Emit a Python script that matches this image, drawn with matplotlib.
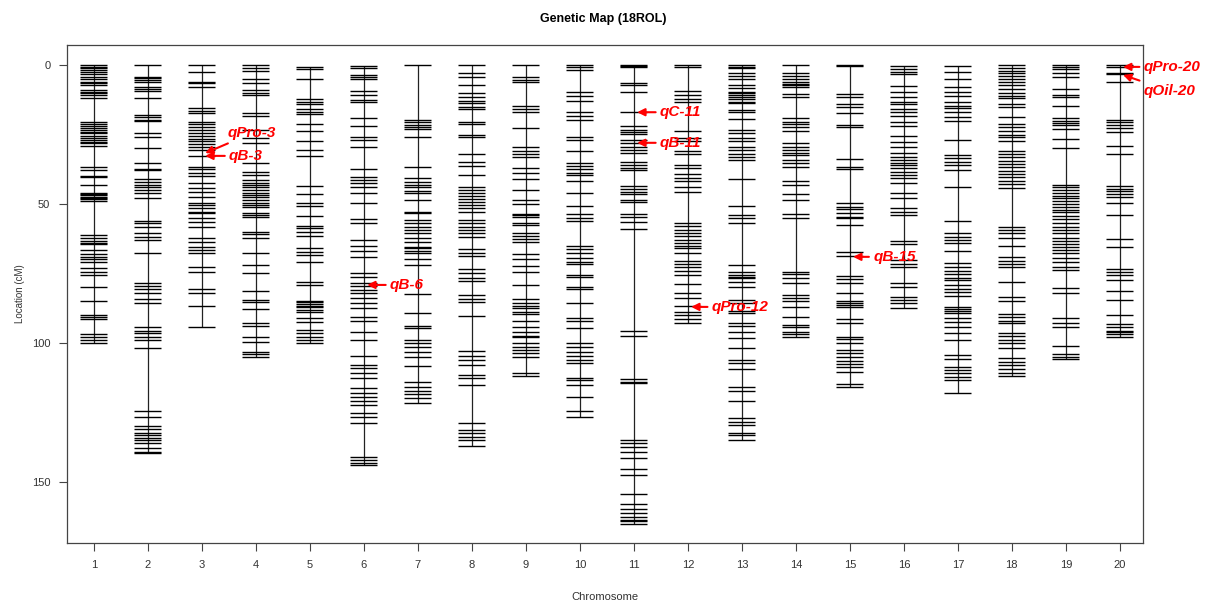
import matplotlib
matplotlib.use("Agg")
import matplotlib.pyplot as plt

# marker positions (cM) on each chromosome
chr1 = [0, 0.6, 1.2, 1.8, 2.4, 3.2, 4.2, 5.2, 6.0, 6.6, 7.2, 9.0, 9.6, 10.2, 10.8, 12.0,
        20.4, 21.2, 21.9, 22.8, 23.4, 24.0, 24.6, 25.5, 26.4, 27.0, 27.6, 28.2, 29.1,
        36.8, 37.8, 39.9, 40.2, 43.2, 45.9, 46.4, 46.9, 47.4, 47.8, 48.3, 48.8,
        61.2, 62.4, 63.2, 63.9, 64.4, 66.5, 68.0, 68.9, 69.9, 70.7, 73.1, 74.3, 75.5,
        79.7, 84.8, 89.9, 90.8, 91.5, 96.8, 98.0, 98.9, 99.8]
chr2 = [0, 4.2, 4.8, 5.4, 6.0, 8.0, 8.7, 9.2, 11.8, 18.0, 18.6, 19.8, 20.1, 24.3, 26.0,
        29.7, 35.4, 37.5, 37.8, 41.1, 42.0, 43.0, 44.0, 45.0, 46.2, 48.0,
        56.0, 57.0, 58.2, 60.6, 62.0, 63.0, 67.7, 78.5, 79.5, 80.5, 82.0, 84.0, 85.7,
        94.4, 95.5, 96.5, 98.0, 99.0, 101.7, 124.3, 126.5, 130.0, 131.0, 132.5, 133.0,
        134.0, 135.0, 136.0, 137.9, 139.2, 139.7]
chr3 = [0, 2.4, 6.0, 6.6, 7.8, 15.6, 16.5, 17.4, 20.4, 21.2, 22.2, 23.4, 24.5, 25.5,
        26.5, 27.5, 28.5, 29.5, 30.6, 32.7, 36.6, 37.5, 39.0, 39.9, 42.3, 44.4, 45.6,
        47.4, 49.5, 50.5, 51.5, 52.8, 53.4, 55.2, 56.4, 58.2, 62.4, 63.5, 65.3, 66.5,
        67.7, 72.5, 74.3, 80.7, 82.1, 86.7, 94.4]
chr4 = [0, 1.2, 2.0, 5.2, 6.6, 9.0, 10.0, 10.8, 17.4, 18.3, 23.4, 26.4, 28.2, 35.4,
        38.4, 39.6, 41.4, 42.3, 43.2, 44.0, 45.0, 46.0, 46.8, 47.6, 48.6, 49.5, 50.4,
        51.2, 53.4, 54.0, 54.6, 60.0, 60.8, 62.4, 67.5, 72.0, 74.7, 81.2, 84.5, 85.1,
        87.9, 92.9, 93.9, 98.0, 99.6, 103.1, 104.0, 105.0]
chr5 = [0.6, 1.6, 5.2, 12.3, 13.2, 14.0, 16.0, 16.8, 17.6, 21.2, 23.6, 27.2, 30.6,
        32.7, 43.5, 46.4, 49.8, 50.7, 54.3, 57.9, 58.8, 60.0, 61.5, 66.0, 67.1, 68.3,
        70.7, 77.9, 79.1, 84.8, 85.4, 86.0, 86.6, 87.2, 88.0, 88.7, 91.1, 92.3, 95.3,
        96.5, 97.7, 98.9, 100.1]
chr6 = [0.4, 1.2, 3.6, 4.4, 5.2, 9.2, 10.8, 12.6, 13.5, 19.2, 21.9, 26.0, 27.0, 29.6,
        37.5, 40.2, 41.4, 42.6, 43.8, 46.2, 49.8, 55.5, 57.0, 63.0, 65.1, 66.8, 69.0,
        74.7, 76.1, 78.5, 79.5, 81.0, 82.1, 83.9, 85.5, 87.5, 90.5, 92.0, 96.0, 98.9,
        104.7, 107.9, 109.1, 110.7, 112.5, 116.3, 118.0, 119.5, 120.8, 122.3, 125.3,
        126.5, 128.9, 140.9, 142.1, 143.0, 143.9]
chr7 = [0, 19.8, 20.6, 21.5, 22.2, 23.1, 26.0, 36.8, 40.8, 42.0, 43.0, 44.0, 45.2,
        46.2, 48.6, 52.8, 53.4, 55.8, 57.0, 58.2, 59.4, 60.6, 62.4, 63.5, 65.3, 66.0,
        66.8, 67.7, 69.9, 71.9, 82.5, 89.1, 93.9, 94.7, 98.9, 100.1, 101.3, 103.1,
        104.9, 108.3, 114.1, 115.9, 117.1, 118.3, 119.9, 121.5]
chr8 = [0, 2.8, 4.2, 7.2, 10.2, 11.4, 12.8, 13.8, 15.0, 16.0, 20.4, 21.2, 25.2, 26.0,
        32.0, 34.8, 36.3, 39.6, 43.8, 45.0, 46.0, 47.0, 48.2, 49.4, 50.5, 51.5, 52.8,
        55.8, 57.0, 58.2, 59.5, 60.3, 62.0, 66.3, 67.5, 68.7, 73.5, 74.9, 76.7, 77.6,
        82.7, 84.3, 85.1, 90.3, 102.8, 104.7, 106.0, 107.9, 111.5, 112.7, 115.1,
        128.9, 131.3, 132.5, 133.7, 134.9, 137.0]
chr9 = [0, 4.4, 5.4, 6.0, 14.7, 15.9, 16.8, 22.8, 29.6, 31.0, 32.2, 33.2, 37.2, 38.7,
        41.1, 45.0, 48.6, 50.0, 53.6, 54.1, 54.6, 56.7, 57.6, 60.3, 61.5, 62.7, 63.5,
        68.0, 69.9, 72.3, 74.3, 79.1, 84.3, 85.5, 86.7, 87.5, 88.7, 89.6, 92.0, 94.4,
        95.9, 97.4, 98.0, 100.1, 101.3, 102.5, 103.7, 104.9, 110.9, 111.9]
chr10 = [0, 0.8, 1.8, 9.6, 11.2, 12.8, 16.8, 18.3, 19.8, 26.0, 27.0, 30.8, 35.1, 36.3,
         37.5, 38.7, 39.6, 41.6, 46.2, 50.6, 53.6, 55.2, 56.0, 65.1, 66.3, 67.5, 69.5,
         70.8, 71.6, 75.5, 76.4, 80.0, 80.7, 85.5, 91.1, 92.0, 94.7, 99.9, 101.3, 103.1,
         104.7, 106.1, 107.3, 112.4, 113.3, 115.1, 119.5, 124.3, 126.5]
chr11 = [0, 0.4, 0.8, 6.6, 7.2, 9.6, 17.0, 21.9, 23.4, 24.2, 24.8, 27.0, 27.9, 29.4,
         30.6, 31.8, 34.8, 36.0, 37.0, 37.8, 43.5, 44.6, 45.8, 46.4, 48.6, 49.2, 53.6,
         54.6, 56.4, 59.1, 95.6, 97.5, 113.0, 114.0, 114.5, 134.9, 136.0, 137.5, 139.0,
         141.5, 145.4, 147.5, 154.1, 157.9, 159.5, 161.0, 162.5, 163.5, 164.0, 165.0]
chr12 = [0, 0.8, 9.2, 10.8, 12.4, 13.5, 23.6, 26.4, 27.2, 30.8, 32.0, 36.0, 37.2, 39.2,
         40.5, 41.6, 43.8, 45.6, 57.0, 58.0, 59.2, 60.5, 61.5, 62.8, 64.0, 65.0, 66.0,
         67.7, 70.4, 71.6, 72.8, 74.0, 75.5, 78.8, 82.1, 83.9, 86.7, 88.7, 90.0, 91.2,
         92.9]
chr13 = [0, 0.6, 1.2, 3.0, 4.0, 5.2, 7.2, 8.4, 9.6, 10.2, 10.8, 11.5, 12.3, 13.2, 13.8,
         16.2, 17.1, 19.5, 23.4, 24.3, 26.4, 27.2, 29.4, 30.6, 32.0, 33.2, 34.2, 41.1,
         50.7, 54.0, 55.2, 57.0, 71.9, 74.3, 75.5, 76.1, 76.7, 77.9, 79.7, 84.5, 85.5,
         88.4, 89.3, 92.7, 93.9, 95.9, 98.3, 101.6, 106.1, 107.1, 109.5, 115.7, 117.1,
         120.7, 127.1, 128.3, 129.5, 132.3, 133.2, 134.7]
chr14 = [0, 3.0, 4.0, 5.2, 6.0, 6.8, 7.2, 7.8, 10.4, 11.4, 19.2, 20.4, 21.2, 22.2, 23.6,
         28.2, 29.6, 30.6, 31.6, 32.5, 34.2, 35.1, 36.8, 41.6, 43.2, 46.4, 48.6, 53.6,
         55.2, 74.3, 75.2, 76.7, 78.3, 82.7, 83.9, 84.8, 86.9, 90.8, 93.5, 94.4, 95.9,
         96.8, 97.7]
chr15 = [0.2, 0.5, 10.4, 11.6, 14.0, 15.2, 17.4, 21.6, 22.2, 33.9, 36.6, 37.5, 49.8,
         51.0, 51.9, 53.4, 54.6, 55.2, 57.6, 67.1, 68.7, 75.9, 77.1, 78.5, 81.9, 84.8,
         85.7, 86.3, 86.9, 91.5, 92.9, 97.7, 98.7, 100.1, 102.5, 103.7, 105.0, 106.5,
         107.5, 108.5, 110.3, 114.7, 115.7]
chr16 = [0.4, 1.6, 2.6, 3.4, 7.6, 9.6, 11.4, 13.2, 14.0, 16.0, 17.1, 18.3, 20.4, 21.9,
         25.5, 27.6, 29.4, 31.8, 33.0, 34.2, 35.4, 36.0, 37.2, 38.4, 39.6, 40.8, 42.3,
         45.9, 48.0, 51.6, 52.8, 54.0, 63.2, 64.4, 70.1, 71.6, 72.5, 78.5, 79.7, 83.3,
         84.5, 85.7, 87.5]
chr17 = [0.4, 2.4, 5.2, 7.8, 9.6, 11.2, 13.5, 14.7, 15.6, 16.8, 18.6, 20.0, 27.0,
         32.4, 33.6, 34.8, 36.0, 37.8, 44.0, 56.0, 60.3, 61.8, 63.0, 64.1, 66.8, 71.3,
         72.5, 74.0, 75.2, 76.5, 77.3, 79.1, 80.5, 81.5, 83.1, 86.9, 87.6, 88.4, 89.3,
         91.1, 92.3, 94.1, 96.3, 98.9, 104.3, 105.9, 108.5, 109.7, 110.9, 112.1, 113.3,
         117.9]
chr18 = [0, 1.0, 2.0, 3.0, 4.0, 5.0, 6.0, 7.2, 8.8, 10.0, 11.2, 12.0, 14.0, 15.0, 18.8,
         21.2, 22.2, 23.6, 25.2, 25.8, 27.2, 30.8, 32.0, 33.2, 34.4, 35.6, 36.8, 38.0,
         39.2, 40.4, 41.6, 42.8, 44.4, 58.2, 59.4, 60.6, 62.4, 65.1, 69.2, 70.4, 71.6,
         72.8, 77.9, 83.6, 84.8, 89.6, 90.8, 92.0, 92.9, 96.3, 97.5, 99.0, 100.1, 101.6,
         105.5, 106.7, 107.9, 109.5, 110.7, 111.9]
chr19 = [0, 0.6, 1.6, 2.8, 4.4, 8.8, 10.8, 11.4, 14.7, 19.2, 20.0, 20.8, 21.6, 23.1,
         26.6, 30.0, 43.2, 44.0, 45.0, 46.0, 47.0, 48.0, 49.0, 50.0, 51.0, 52.0, 53.0,
         54.4, 55.5, 57.0, 58.2, 59.5, 60.3, 62.4, 63.2, 64.3, 65.5, 66.5, 67.7, 69.5,
         70.8, 72.5, 73.8, 80.3, 81.9, 91.1, 92.9, 94.1, 101.1, 104.0, 104.9, 105.9]
chr20 = [0, 0.6, 2.8, 3.2, 6.0, 19.8, 20.6, 21.6, 22.8, 24.0, 29.0, 32.0, 43.5, 44.6,
         45.4, 46.4, 47.6, 49.8, 54.0, 62.7, 65.6, 73.5, 74.5, 75.5, 77.3, 81.2, 84.5,
         89.9, 93.2, 94.4, 95.5, 96.2, 96.8, 98.0]

chromosomes = [chr1, chr2, chr3, chr4, chr5, chr6, chr7, chr8, chr9, chr10,
               chr11, chr12, chr13, chr14, chr15, chr16, chr17, chr18, chr19, chr20]

# QTL labels: name, chromosome, marker position, label x, label y
qtl_names = ["qPro-3", "qB-3", "qB-6", "qC-11", "qB-11", "qPro-12", "qB-15", "qPro-20", "qOil-20"]
qtl_chrom = [3, 3, 6, 11, 11, 12, 15, 20, 20]
qtl_pos = [31.7, 32.7, 79.1, 17.0, 28.0, 87.0, 69.0, 0.7, 3.6]
qtl_text_x = [3.48, 3.50, 6.48, 11.48, 11.48, 12.44, 15.43, 20.44, 20.44]
qtl_text_y = [24.5, 32.7, 79.1, 17.0, 28.0, 87.0, 69.0, 0.7, 9.3]

plt.rcParams['font.family'] = ['Liberation Sans', 'DejaVu Sans']

fig = plt.figure(figsize=(12.07, 6.07), dpi=100)
ax = fig.add_axes([0.0555, 0.1054, 0.8915, 0.8206])

half = 0.25
for i, pos in enumerate(chromosomes, start=1):
    ax.vlines(i, min(pos), max(pos), color='#222222', lw=0.9)
    ax.hlines(pos, i - half, i + half, color='black', lw=1.0)

for name, c, p, tx, ty in zip(qtl_names, qtl_chrom, qtl_pos, qtl_text_x, qtl_text_y):
    ax.annotate(name, xy=(c + 0.06, p), xytext=(tx, ty), color='red',
                fontsize=11, fontweight='bold', fontstyle='italic',
                ha='left', va='center', annotation_clip=False,
                arrowprops=dict(arrowstyle='-|>', color='red', lw=1.5,
                                mutation_scale=11, shrinkA=1, shrinkB=0))

ax.set_xlim(0.5, 20.43)
ax.set_ylim(171.9, -7.2)
ax.set_xticks(range(1, 21))
ax.set_yticks([0, 50, 100, 150])
ax.tick_params(direction='out', length=6, width=0.8, color='#444444',
               labelsize=8, labelcolor='#333333', pad=6)
for s in ax.spines.values():
    s.set_color('#444444')
    s.set_linewidth(0.9)

ax.set_xlabel("Chromosome", fontsize=8, color='#333333', labelpad=16)
ax.set_ylabel("Location (cM)", fontsize=7, color='#333333', labelpad=5)
fig.text(0.5, 0.969, "Genetic Map (18ROL)", ha='center', va='center',
         fontsize=9, fontweight='bold')

fig.savefig("out.png", dpi=100)
